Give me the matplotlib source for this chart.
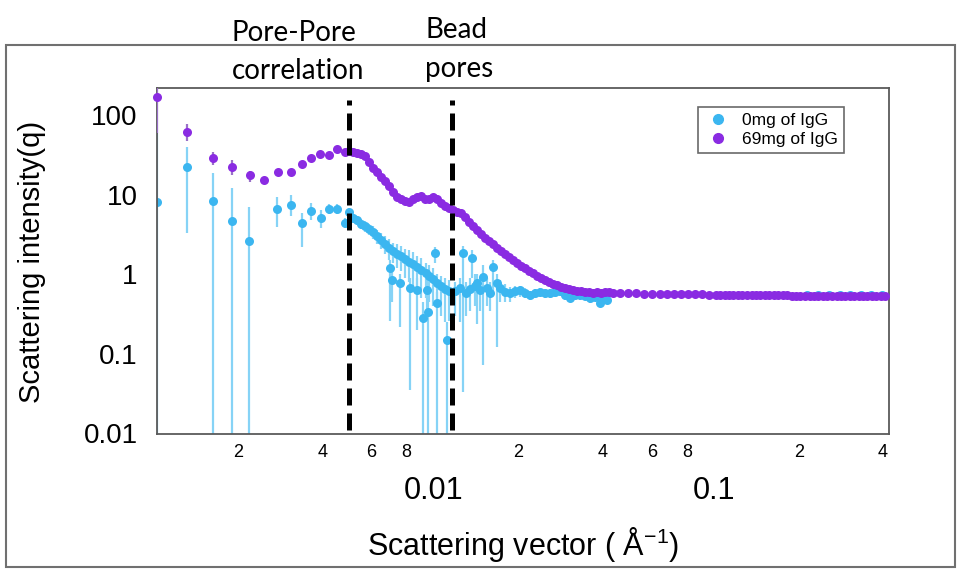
import matplotlib
matplotlib.use("Agg")
import matplotlib.pyplot as plt
from matplotlib.patches import Rectangle
from matplotlib.lines import Line2D
from matplotlib.ticker import NullLocator

plt.rcParams['font.family'] = ['Liberation Sans', 'DejaVu Sans']
plt.rcParams['mathtext.fontset'] = 'custom'
plt.rcParams['mathtext.rm'] = 'Liberation Sans'
plt.rcParams['mathtext.it'] = 'Liberation Sans'

# 0 mg of IgG: q, intensity, lower / upper end of error bar
q_0mg = [0.00103, 0.00132, 0.00163, 0.00191, 0.00220, 0.00277, 0.00309, 0.00338,
         0.00364, 0.00395, 0.00422, 0.00450, 0.00481, 0.00497, 0.00514, 0.00531,
         0.00549, 0.00567, 0.00587, 0.00606, 0.00627, 0.00648, 0.00670, 0.00692,
         0.00697, 0.00708, 0.00716, 0.00740, 0.00756, 0.00765, 0.00791, 0.00817,
         0.00821, 0.00845, 0.00870, 0.00874, 0.00903, 0.00913, 0.00934, 0.00944,
         0.00952, 0.00965, 0.00992, 0.01008, 0.01025, 0.01030, 0.01060, 0.01095,
         0.01113, 0.01132, 0.01189, 0.01238, 0.01270, 0.01300, 0.01345, 0.01367,
         0.01400, 0.01425, 0.01459, 0.01496, 0.01546, 0.01585, 0.01625, 0.01679,
         0.01721, 0.01795, 0.01868, 0.01945, 0.02028, 0.02113, 0.02203, 0.02296,
         0.02392, 0.02489, 0.02595, 0.02704, 0.02818, 0.02938, 0.03062, 0.03191,
         0.03321, 0.03460, 0.03606, 0.03758, 0.03917, 0.04046, 0.04150,
         0.215, 0.235, 0.257, 0.280, 0.305, 0.333, 0.363, 0.395]
I_0mg = [8.05, 22.2, 8.3, 4.64, 2.6, 6.57, 7.37, 4.38,
         6.2, 5.06, 6.57, 6.57, 4.38, 6.0, 5.06, 4.77,
         4.25, 4.01, 3.68, 3.38, 3.0, 2.68, 2.38, 2.12,
         1.19, 0.84, 1.95, 1.79, 0.77, 1.68, 1.54, 1.42,
         0.67, 1.34, 0.63, 1.22, 1.12, 0.28, 1.03, 0.63,
         0.333, 0.94, 0.865, 1.84, 0.43, 0.77, 0.71, 0.65,
         0.148, 0.61, 0.61, 0.67, 1.84, 0.58, 0.65, 1.59,
         0.71, 0.77, 0.63, 0.92, 0.67, 0.58, 1.22, 0.77,
         0.67, 0.60, 0.58, 0.61, 0.63, 0.58, 0.545, 0.58,
         0.60, 0.58, 0.58, 0.60, 0.62, 0.55, 0.51, 0.55,
         0.545, 0.53, 0.50, 0.52, 0.44, 0.50, 0.47,
         0.55, 0.55, 0.55, 0.55, 0.55, 0.55, 0.55, 0.55]
lo_0mg = [0.001, 3.3, 0.001, 0.001, 0.001, 3.9, 5.35, 2.19,
          4.77, 3.79, 5.7, 5.7, 3.8, 5.3, 4.5, 4.2,
          3.7, 3.4, 3.1, 2.8, 2.4, 2.1, 1.8, 1.5,
          0.26, 0.45, 1.4, 1.2, 0.215, 1.1, 0.9, 0.8,
          0.035, 0.7, 0.2, 0.6, 0.5, 0.001, 0.5, 0.3,
          0.001, 0.45, 0.4, 1.4, 0.001, 0.4, 0.3, 0.25,
          0.001, 0.26, 0.3, 0.25, 0.033, 0.3, 0.35, 0.9,
          0.4, 0.24, 0.35, 0.072, 0.4, 0.35, 0.6, 0.12,
          0.45, 0.45, 0.45, 0.5, 0.52, 0.5, 0.47, 0.5,
          0.52, 0.5, 0.5, 0.52, 0.54, 0.48, 0.45, 0.48,
          0.48, 0.47, 0.44, 0.46, 0.39, 0.44, 0.42,
          0.53, 0.53, 0.53, 0.53, 0.53, 0.53, 0.53, 0.53]
hi_0mg = [59, 39.6, 18.7, 12.1, 7.0, 9.3, 9.85, 5.85,
          7.8, 6.4, 7.6, 7.6, 5.06, 6.8, 5.7, 5.4,
          4.9, 4.7, 4.3, 4.0, 3.6, 3.3, 3.0, 2.8,
          1.5, 1.1, 2.5, 2.4, 1.0, 2.3, 2.1, 2.0,
          0.9, 1.9, 0.9, 1.7, 1.6, 0.45, 1.4, 0.85,
          0.5, 1.3, 1.2, 2.2, 0.6, 1.0, 0.95, 0.9,
          0.25, 0.85, 0.8, 0.9, 2.3, 0.8, 0.9, 2.0,
          1.0, 1.0, 0.9, 1.3, 0.9, 0.8, 1.5, 1.0,
          0.85, 0.75, 0.7, 0.72, 0.72, 0.67, 0.62, 0.66,
          0.68, 0.66, 0.66, 0.68, 0.7, 0.62, 0.58, 0.62,
          0.61, 0.6, 0.57, 0.59, 0.5, 0.56, 0.53,
          0.57, 0.57, 0.57, 0.57, 0.57, 0.57, 0.57, 0.57]

# 69 mg of IgG
q_69mg = [0.001033, 0.001322, 0.001625, 0.001914, 0.002203, 0.002471, 0.002773, 0.003085,
          0.003378, 0.003637, 0.003917, 0.004217, 0.004504, 0.004806, 0.004966, 0.005136,
          0.005309, 0.005488, 0.005674, 0.005865, 0.006063, 0.006268, 0.006479, 0.006698,
          0.006924, 0.007158, 0.007399, 0.007649, 0.007907, 0.008174, 0.00845, 0.008735,
          0.00903, 0.009335, 0.00965, 0.009918, 0.01025, 0.0106, 0.01095, 0.01132,
          0.0117, 0.01209, 0.0125, 0.01292, 0.01334, 0.01378, 0.01425, 0.01472,
          0.01521, 0.0157, 0.01625, 0.01679, 0.01734, 0.01795, 0.01854, 0.01914,
          0.01977, 0.02046, 0.02113, 0.02183, 0.02259, 0.02333, 0.0241, 0.02489,
          0.02576, 0.02661, 0.02748, 0.02844, 0.02938, 0.03034, 0.03133, 0.03243,
          0.0335, 0.0346, 0.03581, 0.03698, 0.0382, 0.03945, 0.04083, 0.04217,
          0.04355, 0.04613, 0.0493, 0.0526, 0.0562, 0.0601, 0.0641, 0.0679,
          0.0719, 0.0762, 0.0807, 0.0855, 0.0906, 0.0959, 0.1016, 0.105,
          0.109, 0.113, 0.117, 0.122, 0.126, 0.131, 0.136, 0.141,
          0.146, 0.152, 0.157, 0.163, 0.169, 0.176, 0.182, 0.189,
          0.196, 0.203, 0.211, 0.219, 0.227, 0.235, 0.244, 0.253,
          0.263, 0.273, 0.283, 0.293, 0.304, 0.316, 0.328, 0.340,
          0.352, 0.365, 0.379, 0.393, 0.408]
I_69mg = [168, 61, 28.8, 22.2, 17.6, 15.2, 19.2, 19.2,
          24.2, 28.8, 32.3, 31.4, 37.4, 34.3, 35.3, 34.3,
          33.3, 32.3, 30.5, 25.6, 21.5, 19.2, 16.6, 14.8,
          12.8, 10.7, 9.3, 8.8, 8.3, 8.05, 8.8, 9.3,
          9.6, 8.8, 8.8, 9.3, 8.8, 7.8, 7.2, 6.8,
          6.4, 6.0, 5.85, 5.2, 4.5, 4.0, 3.58, 3.19,
          2.84, 2.6, 2.38, 2.12, 1.95, 1.79, 1.64, 1.50,
          1.37, 1.26, 1.19, 1.09, 1.03, 0.94, 0.89, 0.84,
          0.79, 0.75, 0.73, 0.69, 0.67, 0.65, 0.63, 0.61,
          0.61, 0.59, 0.59, 0.58, 0.59, 0.58, 0.59, 0.59,
          0.58, 0.58, 0.58, 0.58, 0.57, 0.57, 0.57, 0.57,
          0.56, 0.56, 0.56, 0.56, 0.56, 0.555, 0.555, 0.55,
          0.55, 0.55, 0.55, 0.55, 0.55, 0.55, 0.55, 0.55,
          0.55, 0.545, 0.545, 0.545, 0.545, 0.545, 0.545, 0.54,
          0.54, 0.54, 0.54, 0.54, 0.54, 0.54, 0.54, 0.535,
          0.535, 0.535, 0.535, 0.535, 0.535, 0.53, 0.53, 0.53,
          0.53, 0.53, 0.53, 0.53, 0.53]
# error bars visible on the first low-q points of the 69 mg curve
q_69mg_err = [0.001033, 0.001322, 0.001625, 0.001914, 0.002203]
I_69mg_err = [168, 61, 28.8, 22.2, 17.6]
lo_69mg_err = [60, 48, 23.5, 17.6, 14.5]
hi_69mg_err = [240, 78, 34.5, 27, 20]

# dashed markers: pore-pore correlation and bead pores
q_lines = [0.00497, 0.0116]

blue = '#3BB6F0'
blue_err = '#86D3F6'
purple = '#8A2BE2'

fig = plt.figure(figsize=(9.59, 5.70), dpi=100)
ax = fig.add_axes([157 / 959, 136 / 570, 732 / 959, 346 / 570])
ax.set_xscale('log')
ax.set_yscale('log')

yerr0 = [[i - l for i, l in zip(I_0mg, lo_0mg)], [h - i for i, h in zip(I_0mg, hi_0mg)]]
ax.errorbar(q_0mg, I_0mg, yerr=yerr0, fmt='o', color=blue, ms=6.5, mew=0,
            ecolor=blue_err, elinewidth=1.6, capsize=0, zorder=2)

yerr69 = [[i - l for i, l in zip(I_69mg_err, lo_69mg_err)],
          [h - i for i, h in zip(I_69mg_err, hi_69mg_err)]]
ax.errorbar(q_69mg_err, I_69mg_err, yerr=yerr69, fmt='none', ecolor='#9a70c8',
            elinewidth=1.6, capsize=0, zorder=3)
ax.plot(q_69mg, I_69mg, 'o', color=purple, ms=6.5, mew=0, zorder=4, clip_on=False)

for ql in q_lines:
    ax.axvline(ql, ymin=0.012, ymax=0.965, color='black', lw=3.6, dashes=(3.4, 1.6), zorder=5)

ax.set_xlim(0.00103, 0.42)
ax.set_ylim(0.0098, 220)

ax.set_xticks([0.01, 0.1])
ax.set_xticklabels(['0.01', '0.1'], fontsize=22)
ax.set_xticks([0.002, 0.004, 0.006, 0.008, 0.02, 0.04, 0.06, 0.08, 0.2, 0.4], minor=True)
ax.set_xticklabels(['2', '4', '6', '8', '2', '4', '6', '8', '2', '4'], minor=True, fontsize=13)
ax.set_yticks([0.01, 0.1, 1, 10, 100])
ax.set_yticklabels(['0.01', '0.1', '1', '10', '100'], fontsize=20)
ax.yaxis.set_minor_locator(NullLocator())
ax.tick_params(axis='both', which='both', length=0)
ax.tick_params(axis='x', which='major', pad=30)
ax.tick_params(axis='x', which='minor', pad=7)
ax.tick_params(axis='y', which='major', pad=14)
for s in ax.spines.values():
    s.set_color('#5a5a5a')
    s.set_linewidth(1.3)

handles = [Line2D([], [], marker='o', ls='', color=blue, ms=7, label='0mg of IgG'),
           Line2D([], [], marker='o', ls='', color=purple, ms=7, label='69mg of IgG')]
leg = ax.legend(handles=handles, loc='upper left', bbox_to_anchor=(0.739, 0.945),
                borderaxespad=0, fancybox=False, edgecolor='#444444',
                handletextpad=0.6, borderpad=0.35, labelspacing=0.2, handlelength=1.6,
                prop={'family': ['Liberation Sans Narrow', 'Liberation Sans'], 'size': 12.5})
leg.get_frame().set_linewidth(1.2)

fig.text(32 / 959, 1 - 262 / 570, 'Scattering intensity(q)', rotation=90,
         ha='center', va='center', fontsize=21)
fig.text(523 / 959, 1 - 545 / 570, r'Scattering vector ( Å$^{-1}$)',
         ha='center', va='center', fontsize=22)

fig.text(232 / 959, 1 - 41 / 570, 'Pore-Pore', family=['Lato', 'DejaVu Sans'], fontsize=20)
fig.text(232 / 959, 1 - 79 / 570, 'correlation', family=['Lato', 'DejaVu Sans'], fontsize=20)
fig.text(425 / 959, 1 - 38 / 570, 'Bead', family=['Lato', 'DejaVu Sans'], fontsize=20)
fig.text(425 / 959, 1 - 77 / 570, 'pores', family=['Lato', 'DejaVu Sans'], fontsize=20)

fig.patches.append(Rectangle((6 / 959, 3 / 570), 949 / 959, 522 / 570, transform=fig.transFigure,
                             fill=False, edgecolor='#707070', linewidth=1.5))

fig.savefig('out.png', dpi=100)
